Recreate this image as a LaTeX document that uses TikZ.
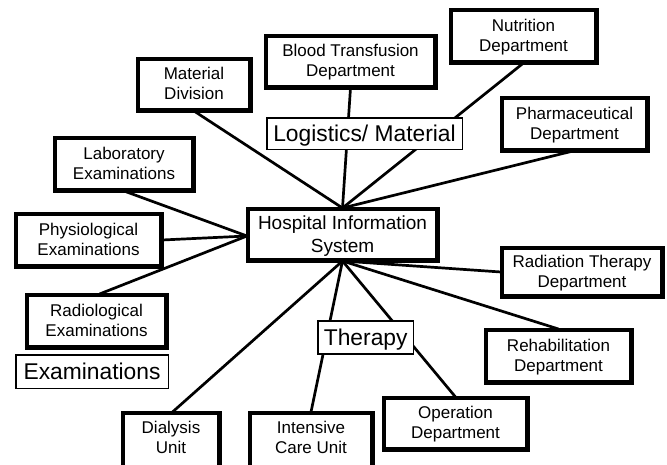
\documentclass[tikz,border=0pt]{standalone}
\usepackage{fontspec}
\setmainfont{Liberation Sans}
\begin{document}
\begin{tikzpicture}[x=1pt,y=-1pt,
  box/.style={draw=black, line width=3pt, fill=white, align=center,
    inner sep=0pt, text depth=2pt, font=\fontsize{17}{20.3}\selectfont},
  hisbox/.style={box, font=\fontsize{19}{22.5}\selectfont, text depth=1pt},
  lbl/.style={draw=black, line width=1.5pt, fill=white, align=center,
    inner sep=0pt, text depth=0pt, font=\fontsize{22.8}{26}\selectfont},
  conn/.style={draw=black, line width=2.7pt}]
\useasboundingbox (0,0) rectangle (667,464);
\clip (0,0) rectangle (667,464);
\fill[white] (0,0) rectangle (667,464);

% nodes
\node[box, minimum width=111, minimum height=50] (mat) at (194,84.5) {Material\\Division};
\node[box, minimum width=168, minimum height=50] (blood) at (350.5,61.5) {Blood Transfusion\\Department};
\node[box, minimum width=144, minimum height=51] (nutr) at (523.5,36) {Nutrition\\Department};
\node[box, minimum width=144, minimum height=51] (pharm) at (574.5,124) {Pharmaceutical\\Department};
\node[box, minimum width=137, minimum height=51] (lab) at (124,164) {Laboratory\\Examinations};
\node[hisbox, minimum width=188, minimum height=50] (his) at (342.5,234.5) {Hospital Information\\System};
\node[box, minimum width=144, minimum height=51] (phys) at (88.5,240) {Physiological\\Examinations};
\node[box, minimum width=138, minimum height=51] (radio) at (96.5,321) {Radiological\\Examinations};
\node[box, minimum width=159, minimum height=47] (radth) at (582,272) {Radiation Therapy\\Department};
\node[box, minimum width=144, minimum height=51] (rehab) at (558.5,356) {Rehabilitation\\Department};
\node[box, minimum width=142, minimum height=50] (oper) at (455.5,423.5) {Operation\\Department};
\node[box, minimum width=95, minimum height=57, text depth=9pt] (dial) at (171,442) {Dialysis\\Unit};
\node[box, minimum width=121, minimum height=57, text depth=9pt] (icu) at (311,442) {Intensive\\Care Unit};

% connectors
\draw[conn] (mat.south) -- (his.north);
\draw[conn] (blood.south) -- (his.north);
\draw[conn] (nutr.south) -- (his.north);
\draw[conn] ([xshift=-1.5pt]pharm.south) -- (his.north);
\draw[conn] (lab.south) -- ([yshift=-1.5pt]his.west);
\draw[conn] (phys.east) -- ([yshift=-1.5pt]his.west);
\draw[conn] ([xshift=3pt]radio.north) -- ([yshift=-1.5pt]his.west);
\draw[conn] (radth.west) -- (his.south);
\draw[conn] (rehab.north) -- (his.south);
\draw[conn] (oper.north) -- (his.south);
\draw[conn] (icu.north) -- (his.south);
\draw[conn] ([xshift=1.5pt]dial.north) -- (his.south);

% redraw box outlines on top of connector ends
\foreach \n in {mat,blood,nutr,pharm,lab,his,phys,radio,radth,rehab,oper,dial,icu}{
  \draw[line width=3pt] (\n.south west) rectangle (\n.north east);
}

% group labels (on top)
\node[lbl, minimum width=195.5, minimum height=31.5] (logi) at (364.5,133.5) {Logistics/ Material};
\node[lbl, minimum width=152.5, minimum height=33.5] (exam) at (92,371.5) {Examinations};
\node[lbl, minimum width=95.5, minimum height=33] (ther) at (365.7,337.5) {Therapy};
\end{tikzpicture}
\end{document}
